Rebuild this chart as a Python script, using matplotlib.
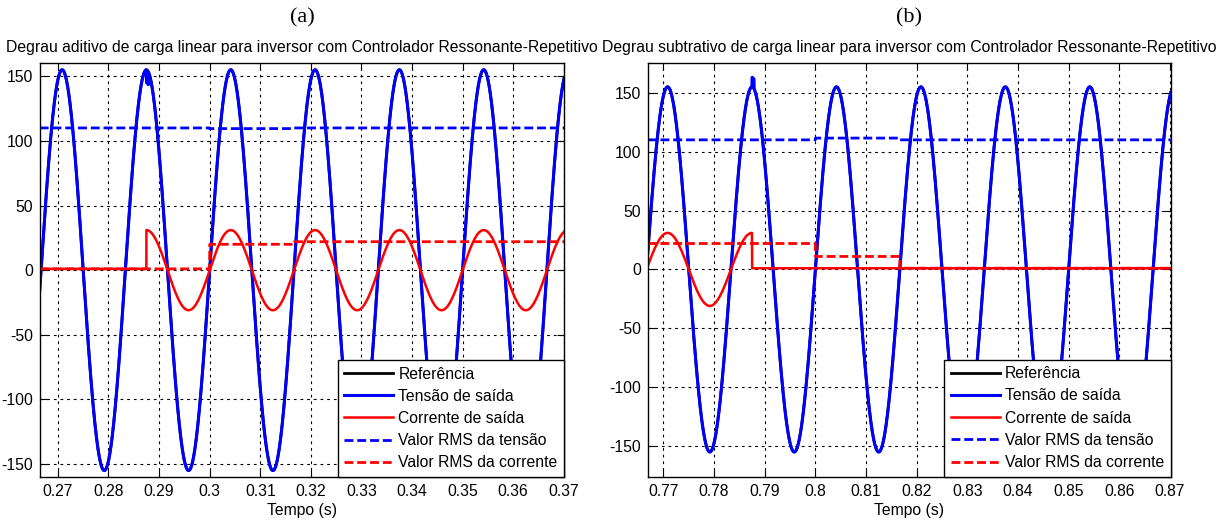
import numpy as np
import matplotlib
matplotlib.use('agg')
import matplotlib.pyplot as plt

plt.rcParams['font.family'] = ['Liberation Sans', 'DejaVu Sans']
plt.rcParams['axes.unicode_minus'] = False

# values
freq = 60.0          # Hz
v_peak = 155.0       # V, output / reference voltage
i_peak = 31.0        # A, load current
i_noload = 1.0       # A, current with no load
dt = 2e-5            # simulation step

panels = ['(a)', '(b)']
titles = ['Degrau aditivo de carga linear para inversor com Controlador Ressonante-Repetitivo',
          'Degrau subtrativo de carga linear para inversor com Controlador Ressonante-Repetitivo']
t_start = [0.2664, 0.7669]
t_end = [0.3701, 0.8702]
t_step = [0.2875, 0.7875]
load_added = [True, False]
v_glitch = [-10.0, 8.0]          # voltage disturbance at the load step
# RMS blocks: update instants and levels
rms_times = [[0.3, 0.31667], [0.8, 0.81667]]
v_rms_levels = [[110.0, 109.5, 110.0], [110.0, 111.5, 110.0]]
i_rms_levels = [[1.0, 20.0, 22.0], [22.0, 11.0, 1.0]]
xticks = [np.arange(0.27, 0.3701, 0.01), np.arange(0.77, 0.8701, 0.01)]
yticks = [-150, -100, -50, 0, 50, 100, 150]
ylims = [(-160, 160), (-176, 175)]

legend_labels = ['Referência', 'Tensão de saída', 'Corrente de saída',
                 'Valor RMS da tensão', 'Valor RMS da corrente']

fig = plt.figure(figsize=(12.2, 5.23), dpi=100)
positions = [[0.03254, 0.08795, 0.43000, 0.79101],
             [0.53090, 0.08853, 0.42893, 0.79044]]
centers = [302 / 1220, 909 / 1220]

for k in range(2):
    ax = fig.add_axes(positions[k])
    t = np.arange(t_start[k], t_end[k], dt)
    wave = np.sin(2 * np.pi * freq * t)

    ref = v_peak * wave
    v = ref.copy()
    near = (t >= t_step[k]) & (t < t_step[k] + 0.0004)
    v[near] += v_glitch[k]

    loaded = (t >= t_step[k]) if load_added[k] else (t < t_step[k])
    i = np.where(loaded, i_peak * wave, i_noload)

    idx = np.searchsorted(rms_times[k], t, side='right')
    v_rms = np.array(v_rms_levels[k])[idx]
    i_rms = np.array(i_rms_levels[k])[idx]

    ax.plot(t, ref, color='k', lw=2, label=legend_labels[0])
    ax.plot(t, v, color='#0000ff', lw=2.2, label=legend_labels[1])
    ax.plot(t, i, color='#ff0000', lw=1.8, label=legend_labels[2])
    ax.plot(t, v_rms, color='#0000ff', lw=2, ls=(0, (3.2, 1.4)), label=legend_labels[3])
    ax.plot(t, i_rms, color='#ff0000', lw=2, ls=(0, (3.2, 1.4)), label=legend_labels[4])

    ax.set_xlim(t_start[k], t_end[k])
    ax.set_ylim(*ylims[k])
    ax.set_xticks(xticks[k])
    ax.set_xticklabels([f'{x:g}' for x in np.round(xticks[k], 2)])
    ax.set_yticks(yticks)
    ax.grid(True, color='k', ls=(0, (2.5, 3.5)), lw=0.8)
    ax.tick_params(direction='in', top=True, right=True, length=5, width=0.8,
                   labelsize=11.3, pad=5)
    for s in ax.spines.values():
        s.set_linewidth(1.0)
        s.set_color('k')

    ax.set_title(titles[k], fontsize=11.3, pad=8)
    ax.set_xlabel('Tempo (s)', fontsize=11.3, labelpad=3)

    leg = ax.legend(loc='lower right', borderaxespad=0, fontsize=11.3,
                    fancybox=False, framealpha=1, edgecolor='k',
                    handlelength=3.1, handletextpad=0.35, labelspacing=0.46,
                    borderpad=0.42)
    leg.get_frame().set_linewidth(1.0)

    fig.text(centers[k], 1 - 18 / 523, panels[k], ha='center', va='center',
             fontsize=16, family=['Liberation Serif', 'DejaVu Serif'])

plt.savefig('out.png', dpi=100)
